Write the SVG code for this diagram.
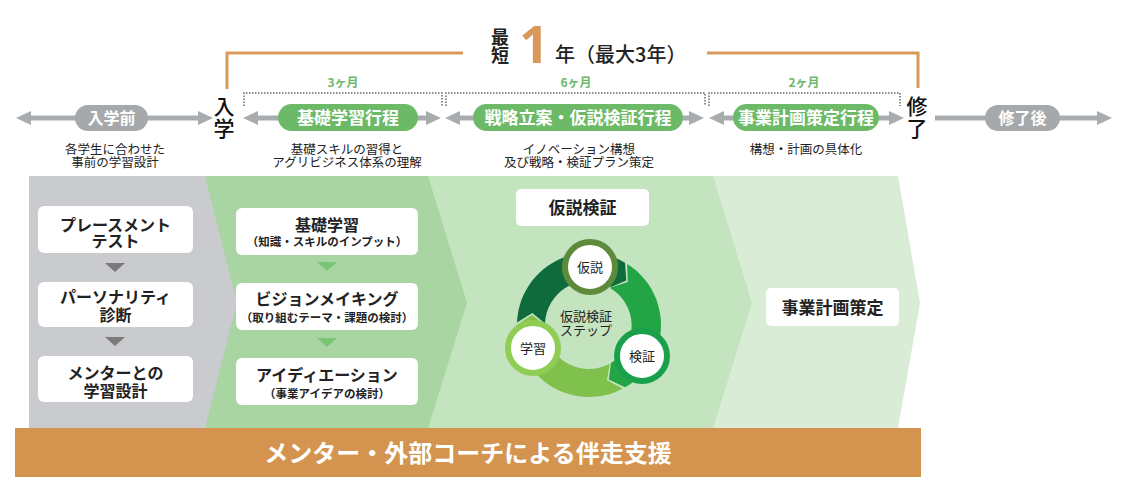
<svg xmlns="http://www.w3.org/2000/svg" width="1128" height="484" viewBox="0 0 1128 484">
<style>
text{font-family:"Noto Sans CJK JP","Noto Sans",sans-serif;}
.pillt{fill:#fff;font-weight:700;font-size:17px;text-anchor:middle;}
.desc{fill:#222;font-size:12.5px;text-anchor:middle;}
.mon{fill:#6cb86a;font-weight:700;font-size:12px;text-anchor:middle;}
.vt{fill:#111;font-size:21px;font-weight:500;text-anchor:middle;}
.bx{fill:#fff;}
.bt{fill:#222;font-weight:700;font-size:16px;text-anchor:middle;}
.bs{font-size:11.5px;}
.garr{stroke:#a9acae;stroke-width:5;fill:none;}
.ghead{fill:#a9acae;}
.dot{fill:none;stroke:#666;stroke-width:1.5;stroke-dasharray:1.5 1.5;}
.orn{fill:none;stroke:#d8995a;stroke-width:3;}
.nt{fill:#222;font-size:13px;text-anchor:middle;}
</style>

<!-- title -->
<g id="title">
  <text x="500" y="44" style="font-size:18px;font-weight:700;fill:#222;text-anchor:middle">最<tspan x="500" dy="18">短</tspan></text>
  <text x="534" y="63" style="font-family:'Noto Sans',sans-serif;font-size:52px;font-weight:700;fill:#d8995a;text-anchor:middle">1</text>
  <text x="555" y="61.5" style="font-size:20px;font-weight:500;fill:#222">年（最大3年）</text>
  <path class="orn" d="M227,89 V53 H463 M707,53 H918 V88"/>
</g>

<!-- months brackets -->
<g id="months">
  <path class="dot" d="M244,106 V93 H442 V106"/>
  <path class="dot" d="M446,106 V93 H705 V106"/>
  <path class="dot" d="M709,106 V93 H900 V106"/>
  <text class="mon" x="343" y="87">3ヶ月</text>
  <text class="mon" x="576" y="87">6ヶ月</text>
  <text class="mon" x="804" y="87">2ヶ月</text>
</g>

<!-- bands -->
<g id="bands">
  <polygon points="713,176 898,176 920,303 898,428 713,428" fill="#d9ecd5"/>
  <polygon points="428,176 713,176 752,303 713,428 428,428" fill="#c4e3bf"/>
  <polygon points="205,176 428,176 467,303 428,428 205,428" fill="#a8d5a2"/>
  <polygon points="29,176 205,176 237,303 205,428 29,428" fill="#c9cbce"/>
</g>

<!-- connectors -->
<g id="connectors">
  <line class="garr" x1="28" y1="118" x2="201" y2="118"/>
  <polygon class="ghead" points="16,118 31,111 31,125"/>
  <polygon class="ghead" points="213,118 198,111 198,125"/>
  <line class="garr" x1="255" y1="118" x2="429" y2="118"/>
  <polygon class="ghead" points="243,118 258,111 258,125"/>
  <polygon class="ghead" points="441,118 426,111 426,125"/>
  <line class="garr" x1="457" y1="118" x2="692" y2="118"/>
  <polygon class="ghead" points="445,118 460,111 460,125"/>
  <polygon class="ghead" points="704,118 689,111 689,125"/>
  <line class="garr" x1="721" y1="118" x2="892" y2="118"/>
  <polygon class="ghead" points="709,118 724,111 724,125"/>
  <polygon class="ghead" points="904,118 889,111 889,125"/>
  <line class="garr" x1="935" y1="118" x2="1100" y2="118"/>
  <polygon class="ghead" points="1112,118 1097,111 1097,125"/>
  <polygon points="105,263 125,263 115,272" fill="#7a7a7a"/>
  <polygon points="105,337 125,337 115,346" fill="#7a7a7a"/>
  <polygon points="317,262 337,262 327,271" fill="#7cc576"/>
  <polygon points="317,338 337,338 327,347" fill="#7cc576"/>
</g>

<!-- phase pills -->
<g id="pre">
  <rect x="75" y="105" width="73" height="26" rx="13" fill="#a6a9ac"/>
  <text class="pillt" x="111.5" y="124" style="font-size:16px">入学前</text>
  <text class="desc" x="115" y="153.5">各学生に合わせた<tspan x="115" dy="13">事前の学習設計</tspan></text>
</g>
<g id="enroll">
  <text class="vt" x="224" y="113.5">入<tspan x="224" dy="22">学</tspan></text>
</g>
<g id="basic">
  <rect x="278" y="104" width="140" height="27" rx="13.5" fill="#6cba68"/>
  <text class="pillt" x="348" y="123.5">基礎学習行程</text>
  <text class="desc" x="347" y="153.5">基礎スキルの習得と<tspan x="347" dy="13">アグリビジネス体系の理解</tspan></text>
</g>
<g id="strategy">
  <rect x="473" y="104" width="210" height="27" rx="13.5" fill="#6cba68"/>
  <text class="pillt" x="578" y="123.5">戦略立案・仮説検証行程</text>
  <text class="desc" x="579" y="153.5">イノベーション構想<tspan x="579" dy="13">及び戦略・検証プラン策定</tspan></text>
</g>
<g id="plan">
  <rect x="733" y="104" width="146" height="27" rx="13.5" fill="#6cba68"/>
  <text class="pillt" x="806" y="123.5">事業計画策定行程</text>
  <text class="desc" x="806" y="153.5">構想・計画の具体化</text>
</g>
<g id="finish">
  <text class="vt" x="917" y="113.5">修<tspan x="917" dy="22">了</tspan></text>
</g>
<g id="post">
  <rect x="985" y="105" width="75" height="26" rx="13" fill="#a6a9ac"/>
  <text class="pillt" x="1022.5" y="124" style="font-size:16px">修了後</text>
</g>

<!-- pre column boxes -->
<g id="placement">
  <rect class="bx" x="38" y="206" width="155" height="47" rx="6"/>
  <text class="bt" x="115.5" y="231">プレースメント<tspan x="115.5" dy="15.5">テスト</tspan></text>
</g>
<g id="personality">
  <rect class="bx" x="38" y="282" width="155" height="45" rx="6"/>
  <text class="bt" x="115.5" y="303">パーソナリティ<tspan x="115.5" dy="18">診断</tspan></text>
</g>
<g id="mentor">
  <rect class="bx" x="38" y="356" width="155" height="46" rx="6"/>
  <text class="bt" x="115.5" y="379">メンターとの<tspan x="115.5" dy="17.5">学習設計</tspan></text>
</g>

<!-- basic column boxes -->
<g id="kiso">
  <rect class="bx" x="236" y="208" width="182" height="47" rx="6"/>
  <text class="bt" x="327" y="231">基礎学習<tspan class="bs" x="327" dy="15">（知識・スキルのインプット）</tspan></text>
</g>
<g id="vision">
  <rect class="bx" x="236" y="283" width="182" height="47" rx="6"/>
  <text class="bt" x="327" y="305">ビジョンメイキング<tspan class="bs" x="327" dy="16.5">（取り組むテーマ・課題の検討）</tspan></text>
</g>
<g id="ideation">
  <rect class="bx" x="236" y="358" width="182" height="47" rx="6"/>
  <text class="bt" x="327" y="381">アイディエーション<tspan class="bs" x="327" dy="16.5">（事業アイデアの検討）</tspan></text>
</g>

<!-- hypothesis column -->
<g id="kasetsu-title">
  <rect class="bx" x="516" y="189" width="133" height="37" rx="5"/>
  <text class="bt" x="582.5" y="214" style="font-size:17px">仮説検証</text>
</g>
<g id="cycle">
  <path d="M517.04,322.49 A72,72 0 0 1 625,262.65 L626.28,280.57 L611,286.89 A44,44 0 0 0 545.03,323.46 L532.27,312.94 Z" fill="#0f6a3c"/>
  <path d="M627.15,263.94 A72,72 0 0 1 625,387.35 L608.84,379.5 L611,363.11 A44,44 0 0 0 609.66,287.69 L627.81,281.9 Z" fill="#23a545"/>
  <path d="M622.8,388.57 A72,72 0 0 1 517,325 L531.88,314.93 L545,325 A44,44 0 0 0 609.66,363.85 L606.92,380.16 Z" fill="#80c04c"/>
  <text class="nt" x="586" y="321">仮説検証<tspan x="586" dy="14">ステップ</tspan></text>
</g>
<g id="node-kasetsu">
  <circle cx="590" cy="267" r="25" fill="#fff" stroke="#5e8b3b" stroke-width="6"/>
  <text class="nt" x="590" y="272">仮説</text>
</g>
<g id="node-kensho">
  <circle cx="642" cy="356" r="25" fill="#fff" stroke="#19a04a" stroke-width="6"/>
  <text class="nt" x="642" y="361">検証</text>
</g>
<g id="node-gakushu">
  <circle cx="533" cy="348" r="25" fill="#fff" stroke="#8fcd55" stroke-width="6"/>
  <text class="nt" x="533" y="353">学習</text>
</g>

<!-- plan column -->
<g id="jigyou">
  <rect class="bx" x="766" y="288" width="133" height="38" rx="5"/>
  <text class="bt" x="832.5" y="314" style="font-size:17px">事業計画策定</text>
</g>

<!-- support bar -->
<g id="support">
  <rect x="15" y="428" width="906" height="49" fill="#d4944f"/>
  <text x="468" y="462" style="fill:#fff;font-size:24px;font-weight:700;text-anchor:middle">メンター・外部コーチによる伴走支援</text>
</g>
</svg>
